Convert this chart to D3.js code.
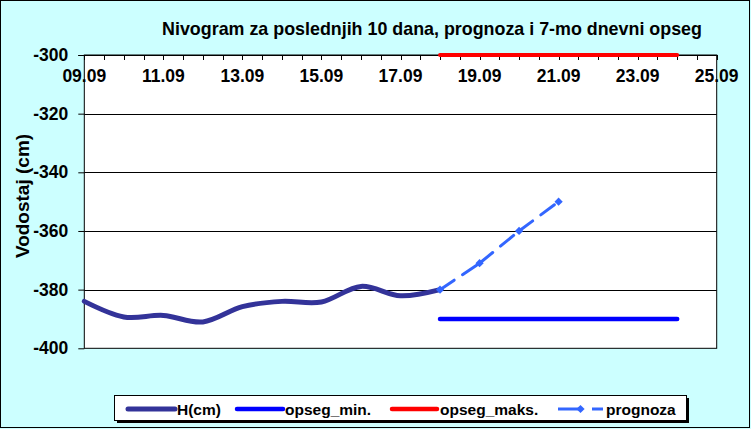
<!DOCTYPE html>
<html><head><meta charset="utf-8">
<script src="https://cdn.jsdelivr.net/npm/d3@7"></script>
<style>html,body{margin:0;padding:0;background:#CCFFFF;}svg{display:block;}</style>
</head><body>
<svg id="chart" width="751" height="429"></svg>
<script>
// ---- data ----
const title = "Nivogram za poslednjih 10 dana, prognoza i 7-mo dnevni opseg";
const yLabel = "Vodostaj (cm)";
const hDates = ["09.09","10.09","11.09","12.09","13.09","14.09","15.09","16.09","17.09","18.09"];
const hValues = [-384, -389.3, -388.8, -391, -385.8, -384, -384.2, -378.9, -382.1, -380];
const progDates = ["18.09","19.09","20.09","21.09"];
const progValues = [-380, -371, -360, -350];
const rangeDates = ["18.09","19.09","20.09","21.09","22.09","23.09","24.09"];
const minValues = [-390, -390, -390, -390, -390, -390, -390];
const maxValues = [-300, -300, -300, -300, -300, -300, -300];
const xDomain = ["09.09","25.09"];
const yTicks = [-400, -380, -360, -340, -320, -300];
const seriesNames = ["H(cm)", "opseg_min.", "opseg_maks.", "prognoza"];

// ---- setup ----
const parse = s => d3.timeParse("%d.%m.%Y")(s + ".2023");
const fmt = d3.timeFormat("%d.%m");
const svg = d3.select("#chart");
const FONT = "Arial, 'Liberation Sans', sans-serif";
const L = 84.3, R = 716.7, T = 55, B = 348.3;

svg.append("rect").attr("x",0.5).attr("y",0.5).attr("width",749).attr("height",427)
  .attr("fill","#CCFFFF").attr("stroke","#000").attr("stroke-width",1);

const x = d3.scaleTime().domain(xDomain.map(parse)).range([L, R]);
const y = d3.scaleLinear().domain([-400, -300]).range([B, T]);

// plot area
svg.append("rect").attr("x",L).attr("y",T).attr("width",R-L).attr("height",B-T)
  .attr("fill","#fff").attr("stroke","#000").attr("stroke-width",1);

// gridlines
svg.append("g").selectAll("line").data(yTicks.filter(v => v > -400 && v < -300)).join("line")
  .attr("x1",L).attr("x2",R).attr("y1",d=>Math.round(y(d))+0.5).attr("y2",d=>Math.round(y(d))+0.5)
  .attr("stroke","#000").attr("stroke-width",1);

// y axis
const yAxis = d3.axisLeft(y).tickValues(yTicks).tickSize(6).tickPadding(10).tickFormat(d => String(d));
const gy = svg.append("g").attr("transform",`translate(${L},0)`).call(yAxis);
gy.select(".domain").remove();
gy.selectAll("line").attr("stroke","#000");
gy.selectAll("text").attr("font-family",FONT).attr("font-size","17.5px").attr("font-weight","bold").attr("fill","#000");

// x axis (at top, labels inside)
const xStart = parse(xDomain[0]), xEnd = parse(xDomain[1]);
const minor = d3.timeHour.every(12).range(xStart, d3.timeHour.offset(xEnd, 1));
const gx = svg.append("g").attr("transform",`translate(0,${T})`);
gx.append("line").attr("x1",L-6).attr("x2",R).attr("y1",0.5).attr("y2",0.5).attr("stroke","#000");
gx.selectAll("line.mt").data(minor).join("line").attr("class","mt")
  .attr("x1",d=>Math.round(x(d))+0.5).attr("x2",d=>Math.round(x(d))+0.5).attr("y1",0).attr("y2",5)
  .attr("stroke","#000");
const labelDays = d3.range(0, 17, 2).map(i => d3.timeDay.offset(xStart, i));
gx.selectAll("text").data(labelDays).join("text")
  .attr("x",d=>x(d)).attr("y",27).attr("text-anchor","middle")
  .attr("font-family",FONT).attr("font-size","17.5px").attr("font-weight","bold").text(d=>fmt(d));

// series
const hData = hDates.map((d,i)=>({x:parse(d), y:hValues[i]}));
const pData = progDates.map((d,i)=>({x:parse(d), y:progValues[i]}));
const minData = rangeDates.map((d,i)=>({x:parse(d), y:minValues[i]}));
const maxData = rangeDates.map((d,i)=>({x:parse(d), y:maxValues[i]}));

const line = d3.line().x(d=>x(d.x)).y(d=>y(d.y));
const smooth = d3.line().x(d=>x(d.x)).y(d=>y(d.y)).curve(d3.curveCatmullRom.alpha(0));

svg.append("path").datum(minData).attr("d",line).attr("fill","none")
  .attr("stroke","#0000FF").attr("stroke-width",4.5).attr("stroke-linecap","round");
svg.append("path").datum(maxData).attr("d",line).attr("fill","none")
  .attr("stroke","#FF0000").attr("stroke-width",4).attr("stroke-linecap","round");
svg.append("path").datum(hData).attr("d",smooth).attr("fill","none")
  .attr("stroke","#333399").attr("stroke-width",5).attr("stroke-linecap","round").attr("stroke-linejoin","round");

// prognoza: dashed segments restarting at each point
const segs = d3.pairs(pData);
svg.append("g").selectAll("path").data(segs).join("path")
  .attr("d",d=>line(d)).attr("fill","none").attr("stroke","#3366FF").attr("stroke-width",3)
  .attr("stroke-dasharray","17,10").attr("stroke-linecap","round");
const marker = d3.symbol().type(d3.symbolSquare).size(34);
svg.append("g").selectAll("path").data(pData).join("path")
  .attr("transform",d=>`translate(${x(d.x)},${y(d.y)}) rotate(45)`).attr("d",marker).attr("fill","#3366FF");

// title (fit to reference width)
const tt = svg.append("text").attr("x",432).attr("y",35).attr("text-anchor","middle")
  .attr("font-family",FONT).attr("font-size","17px").attr("font-weight","bold").text(title);
const tw = tt.node().getComputedTextLength();
if (tw > 0) tt.attr("font-size", (17 * 540 / tw).toFixed(2) + "px");

// y label
svg.append("text").attr("transform","translate(29,196) rotate(-90)").attr("text-anchor","middle")
  .attr("font-family",FONT).attr("font-size","19px").attr("font-weight","bold").text(yLabel);

// legend
const lg = svg.append("g");
lg.append("rect").attr("x",117).attr("y",398).attr("width",572).attr("height",25).attr("fill","#000");
lg.append("rect").attr("x",114.5).attr("y",395.5).attr("width",572).attr("height",25).attr("fill","#fff").attr("stroke","#000");
const items = [
  {name:seriesNames[0], x1:128, x2:175, tx:177, color:"#333399", w:5},
  {name:seriesNames[1], x1:237, x2:283, tx:285, color:"#0000FF", w:4.5},
  {name:seriesNames[2], x1:392, x2:437, tx:440, color:"#FF0000", w:4.5},
  {name:seriesNames[3], x1:558, x2:603, tx:606, color:"#3366FF", w:3}
];
items.forEach((it,i)=>{
  if (i < 3) {
    lg.append("line").attr("x1",it.x1).attr("x2",it.x2).attr("y1",409).attr("y2",409)
      .attr("stroke",it.color).attr("stroke-width",it.w).attr("stroke-linecap","round");
  } else {
    lg.append("line").attr("x1",it.x1).attr("x2",it.x1+21).attr("y1",409).attr("y2",409)
      .attr("stroke",it.color).attr("stroke-width",it.w);
    lg.append("line").attr("x1",it.x1+34).attr("x2",it.x2).attr("y1",409).attr("y2",409)
      .attr("stroke",it.color).attr("stroke-width",it.w);
    lg.append("path").attr("transform",`translate(${(it.x1+it.x2)/2},409) rotate(45)`).attr("d",marker).attr("fill",it.color);
  }
  lg.append("text").attr("x",it.tx).attr("y",414.5).attr("font-family",FONT).attr("font-size","15.5px")
    .attr("font-weight","bold").text(it.name);
});
</script>
</body></html>
